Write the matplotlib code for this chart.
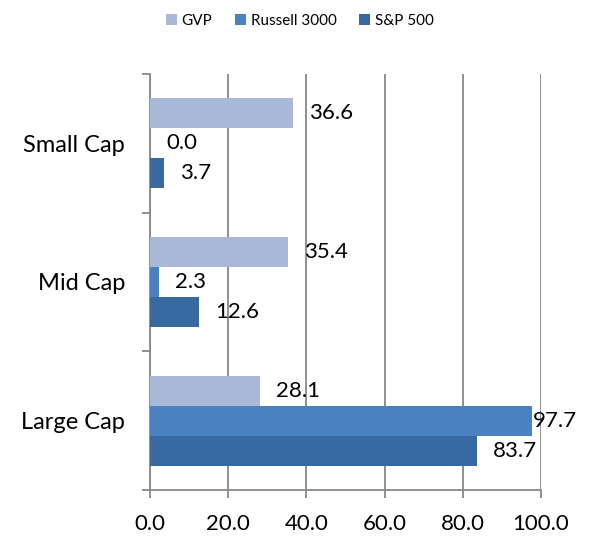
import numpy as np
import matplotlib
matplotlib.use('Agg')
import matplotlib.pyplot as plt
from matplotlib.transforms import offset_copy

plt.rcParams['font.family'] = ['Lato', 'DejaVu Sans']

categories = ['Large Cap', 'Mid Cap', 'Small Cap']
series = ['GVP', 'Russell 3000', 'S&P 500']
gvp = [28.1, 35.4, 36.6]
russell = [97.7, 2.3, 0.0]
sp500 = [83.7, 12.6, 3.7]
colors = ['#A9B9DA', '#4A81C0', '#3869A0']
xticks = [0, 20, 40, 60, 80, 100]

fig = plt.figure(figsize=(5.94, 5.38), dpi=100)
ax = fig.add_axes([150/594, 48/538, 391/594, 416/538])

y = np.arange(len(categories))
h = 30/139
values = [gvp, russell, sp500]
for i, (name, vals, c) in enumerate(zip(series, values, colors)):
    pos = y + (1 - i) * h
    ax.barh(pos, vals, height=h, color=c, label=name, zorder=3)
    for p, v in zip(pos, vals):
        off = 1 if v > 95 else 16
        tr = offset_copy(ax.transData, fig=fig, x=off, y=0, units='dots')
        ax.text(v, p, f'{v:.1f}', transform=tr, ha='left', va='center',
                fontsize=16, color='black', zorder=4)

ax.set_xlim(0, 100)
ax.set_ylim(-0.5, 2.5)
ax.set_xticks(xticks)
ax.set_xticklabels([f'{t:.1f}' for t in xticks], fontsize=16)
ax.set_yticks(y)
ax.set_yticklabels(categories, fontsize=17)
ax.set_yticks(np.arange(-0.5, 3.0, 1.0), minor=True)
ax.tick_params(axis='y', which='major', length=0, pad=18)
ax.tick_params(axis='y', which='minor', length=6, color='#888888', width=1.3)
ax.tick_params(axis='x', length=6, color='#888888', width=1.3, pad=11)

ax.grid(axis='x', color='#888888', linewidth=1.3, zorder=0)
for s in ['top', 'right']:
    ax.spines[s].set_visible(False)
for s in ['left', 'bottom']:
    ax.spines[s].set_color('#888888')
    ax.spines[s].set_linewidth(1.3)

fig.legend(loc='upper center', bbox_to_anchor=(0.505, 1.0), ncol=3,
           frameon=False, fontsize=11, handlelength=0.7, handleheight=0.7,
           handletextpad=0.3, columnspacing=1.5)

fig.savefig('out.png', dpi=100)
